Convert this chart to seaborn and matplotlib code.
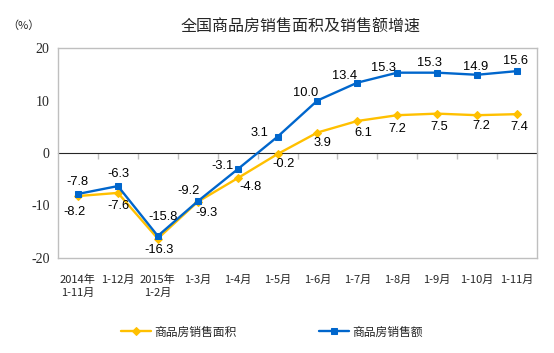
import matplotlib
matplotlib.use("Agg")
import matplotlib.pyplot as plt
import seaborn as sns
import pandas as pd

categories = ["2014年\n1-11月", "1-12月", "2015年\n1-2月", "1-3月", "1-4月", "1-5月",
              "1-6月", "1-7月", "1-8月", "1-9月", "1-10月", "1-11月"]
area_growth = [-8.2, -7.6, -16.3, -9.3, -4.8, -0.2, 3.9, 6.1, 7.2, 7.5, 7.2, 7.4]
sales_growth = [-7.8, -6.3, -15.8, -9.2, -3.1, 3.1, 10.0, 13.4, 15.3, 15.3, 14.9, 15.6]
y_ticks = [-20, -10, 0, 10, 20]
series_names = ["商品房销售面积", "商品房销售额"]
title = "全国商品房销售面积及销售额增速"

# label offsets in pixels (dx, dy up)
area_off = [(-3, -16), (1, -13), (1, -11), (9, -11), (13, -9), (6, -10), (5, -10),
            (6, -12), (0, -14), (2, -13), (4, -11), (2, -13)]
sales_off = [(-1, 12), (1, 12), (5, 19), (-9, 10), (-15, 3), (-18, 4), (-12, 8),
             (-13, 7), (-14, 5), (-8, 10), (-1, 8), (-2, 10)]

sns.set_style("white")
plt.rcParams["font.family"] = ["Noto Sans CJK SC", "DejaVu Sans"]

YELLOW = "#FFC000"
BLUE = "#0066CC"
GREY = "#BFBFBF"

df = pd.DataFrame({"x": list(range(len(categories))),
                   "area": area_growth, "sales": sales_growth})

fig = plt.figure(figsize=(5.54, 3.53), dpi=100)
ax = fig.add_axes([58 / 554, 1 - 258 / 353, (537 - 58) / 554, (258 - 48) / 353])

sns.lineplot(data=df, x="x", y="area", ax=ax, color=YELLOW, marker="D", markersize=4.5,
             markeredgecolor=YELLOW, linewidth=1.7, label=series_names[0], legend=False)
sns.lineplot(data=df, x="x", y="sales", ax=ax, color=BLUE, marker="s", markersize=5,
             markeredgecolor=BLUE, linewidth=1.7, label=series_names[1], legend=False)

for i, v in enumerate(area_growth):
    ax.annotate(f"{v:.1f}", (i, v), xytext=area_off[i], textcoords="offset pixels",
                ha="center", va="center", fontsize=9.3, family="Liberation Sans", color="#000000")
for i, v in enumerate(sales_growth):
    ax.annotate(f"{v:.1f}", (i, v), xytext=sales_off[i], textcoords="offset pixels",
                ha="center", va="center", fontsize=9.3, family="Liberation Sans", color="#000000")

ax.set_xlim(-0.5, len(categories) - 0.5)
ax.set_ylim(-20, 20)
ax.set_yticks(y_ticks)
ax.set_yticklabels([str(t) for t in y_ticks], family="Liberation Serif", fontsize=10)
ax.set_xticks(range(len(categories)))
ax.set_xticklabels(categories, fontsize=8, linespacing=1.3)
ax.tick_params(axis="x", length=0, pad=12)
ax.tick_params(axis="y", direction="in", length=4, color=GREY, pad=6)
for t in ax.get_xticklabels():
    t.set_va("top")
ax.set_xlabel("")
ax.set_ylabel("")
for s in ax.spines.values():
    s.set_color(GREY)
    s.set_linewidth(1)
    s.set_visible(True)

# zero axis line with category boundary ticks
sec = ax.secondary_xaxis(0.5)
sec.set_xticks([i + 0.5 for i in range(len(categories) - 1)])
sec.set_xticklabels([])
sec.tick_params(direction="in", length=4, color=GREY, width=1)
sec.spines["bottom"].set_color(GREY)
sec.spines["bottom"].set_linewidth(1)

fig.text(301 / 554, 1 - 27 / 353, title, ha="center", va="center", fontsize=11.5)
fig.text(23 / 554, 1 - 26 / 353, "（%）", ha="center", va="center", fontsize=8,
         family=["Noto Sans CJK SC", "DejaVu Sans"])

handles, labels = ax.get_legend_handles_labels()
fig.legend(handles, labels, loc="center", bbox_to_anchor=(272 / 554, 1 - 332 / 353),
           ncol=2, frameon=False, fontsize=8.5, handlelength=2.5, handletextpad=0.3,
           columnspacing=7)

fig.savefig("out.png", dpi=100)
